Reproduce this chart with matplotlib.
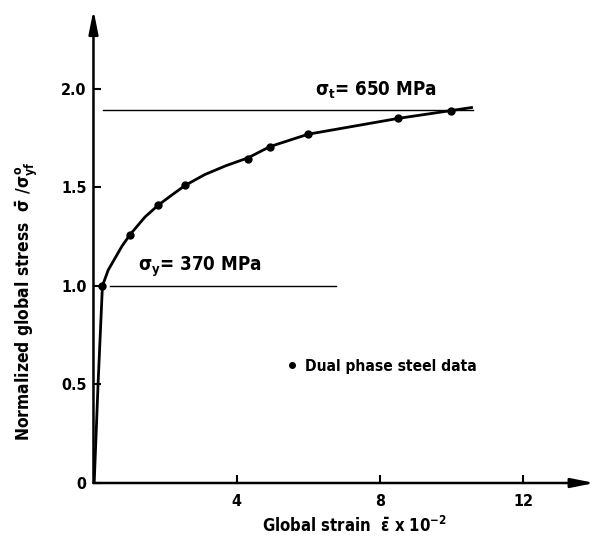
import matplotlib
matplotlib.use('Agg')
import matplotlib.pyplot as plt

# Data (strain x 1e-2, normalized stress)
data_strain = [0.25, 1.02, 1.81, 2.56, 4.32, 4.93, 6.0, 8.51, 10.0]
data_stress = [1.00, 1.26, 1.41, 1.51, 1.645, 1.707, 1.77, 1.85, 1.89]

# Fitted curve
curve_strain = [0.02, 0.13, 0.25, 0.41, 0.60, 0.79, 1.02, 1.44, 1.81, 2.18,
                2.56, 3.11, 3.70, 4.32, 4.93, 6.0, 7.26, 8.51, 10.0, 10.56]
curve_stress = [0.0, 0.51, 1.00, 1.08, 1.14, 1.20, 1.26, 1.35, 1.41, 1.46,
                1.51, 1.565, 1.61, 1.65, 1.707, 1.77, 1.81, 1.85, 1.89, 1.905]

x_ticks = [4, 8, 12]
x_tick_labels = ['4', '8', '12']
y_ticks = [0, 0.5, 1.0, 1.5, 2.0]
y_tick_labels = ['0', '0.5', '1.0', '1.5', '2.0']

yield_level = 1.0        # sigma_y = 370 MPa
tensile_level = 1.895    # sigma_t = 650 MPa

plt.rcParams['font.family'] = ['DejaVu Sans']
plt.rcParams['font.stretch'] = 'condensed'
plt.rcParams['font.weight'] = 'bold'
plt.rcParams['axes.labelweight'] = 'bold'
plt.rcParams['mathtext.fontset'] = 'custom'
plt.rcParams['mathtext.rm'] = 'DejaVu Sans:bold'
plt.rcParams['mathtext.it'] = 'DejaVu Sans:bold'
plt.rcParams['mathtext.bf'] = 'DejaVu Sans:bold'

fig = plt.figure(figsize=(6.07, 5.47), dpi=100)
ax = fig.add_axes([0.154, 0.117, 0.8256, 0.8647])
ax.set_xlim(0, 14)
ax.set_ylim(0, 2.4)

for s in ['top', 'right', 'left', 'bottom']:
    ax.spines[s].set_visible(False)

# axes drawn as arrows
arrow = dict(arrowstyle='-|>,head_length=1.4,head_width=0.28', color='black',
             lw=1.8, shrinkA=0, shrinkB=0)
ax.annotate('', xy=(14, 0), xytext=(0, 0), arrowprops=arrow, annotation_clip=False)
ax.annotate('', xy=(0, 2.4), xytext=(0, 0), arrowprops=arrow, annotation_clip=False)

ax.set_xticks(x_ticks)
ax.set_xticklabels(x_tick_labels)
ax.set_yticks(y_ticks)
ax.set_yticklabels(y_tick_labels)
ax.tick_params(axis='both', direction='in', length=6, width=1.5, labelsize=11.5)
ax.tick_params(axis='x', pad=8)
ax.tick_params(axis='y', pad=5)

# reference levels
ax.plot([0.27, 10.6], [tensile_level, tensile_level], color='black', lw=1.0)
ax.plot([0.46, 6.77], [yield_level, yield_level], color='black', lw=1.0)

ax.plot(curve_strain, curve_stress, color='black', lw=2.0)
ax.plot(data_strain, data_stress, 'o', color='black', markersize=5)

ax.text(6.2, 1.99, r'$\sigma_t$= 650 MPa', fontsize=13.5, va='center', ha='left')
ax.text(1.24, 1.096, r'$\sigma_y$= 370 MPa', fontsize=13.5, va='center', ha='left')

ax.plot([5.54], [0.60], 'o', color='black', markersize=4)
ax.text(5.9, 0.59, 'Dual phase steel data', fontsize=11.2, va='center', ha='left')

ax.set_ylabel(r'Normalized global stress  $\bar{\sigma}$ /$\sigma^{o}_{yf}$', fontsize=12.5)
ax.yaxis.set_label_coords(-0.107, 0.385)
ax.set_xlabel(r'Global strain  $\bar{\varepsilon}$ x 10$^{-2}$', fontsize=12)
ax.xaxis.set_label_coords(0.52, -0.07)

plt.savefig('out.png', dpi=100)
plt.close()
